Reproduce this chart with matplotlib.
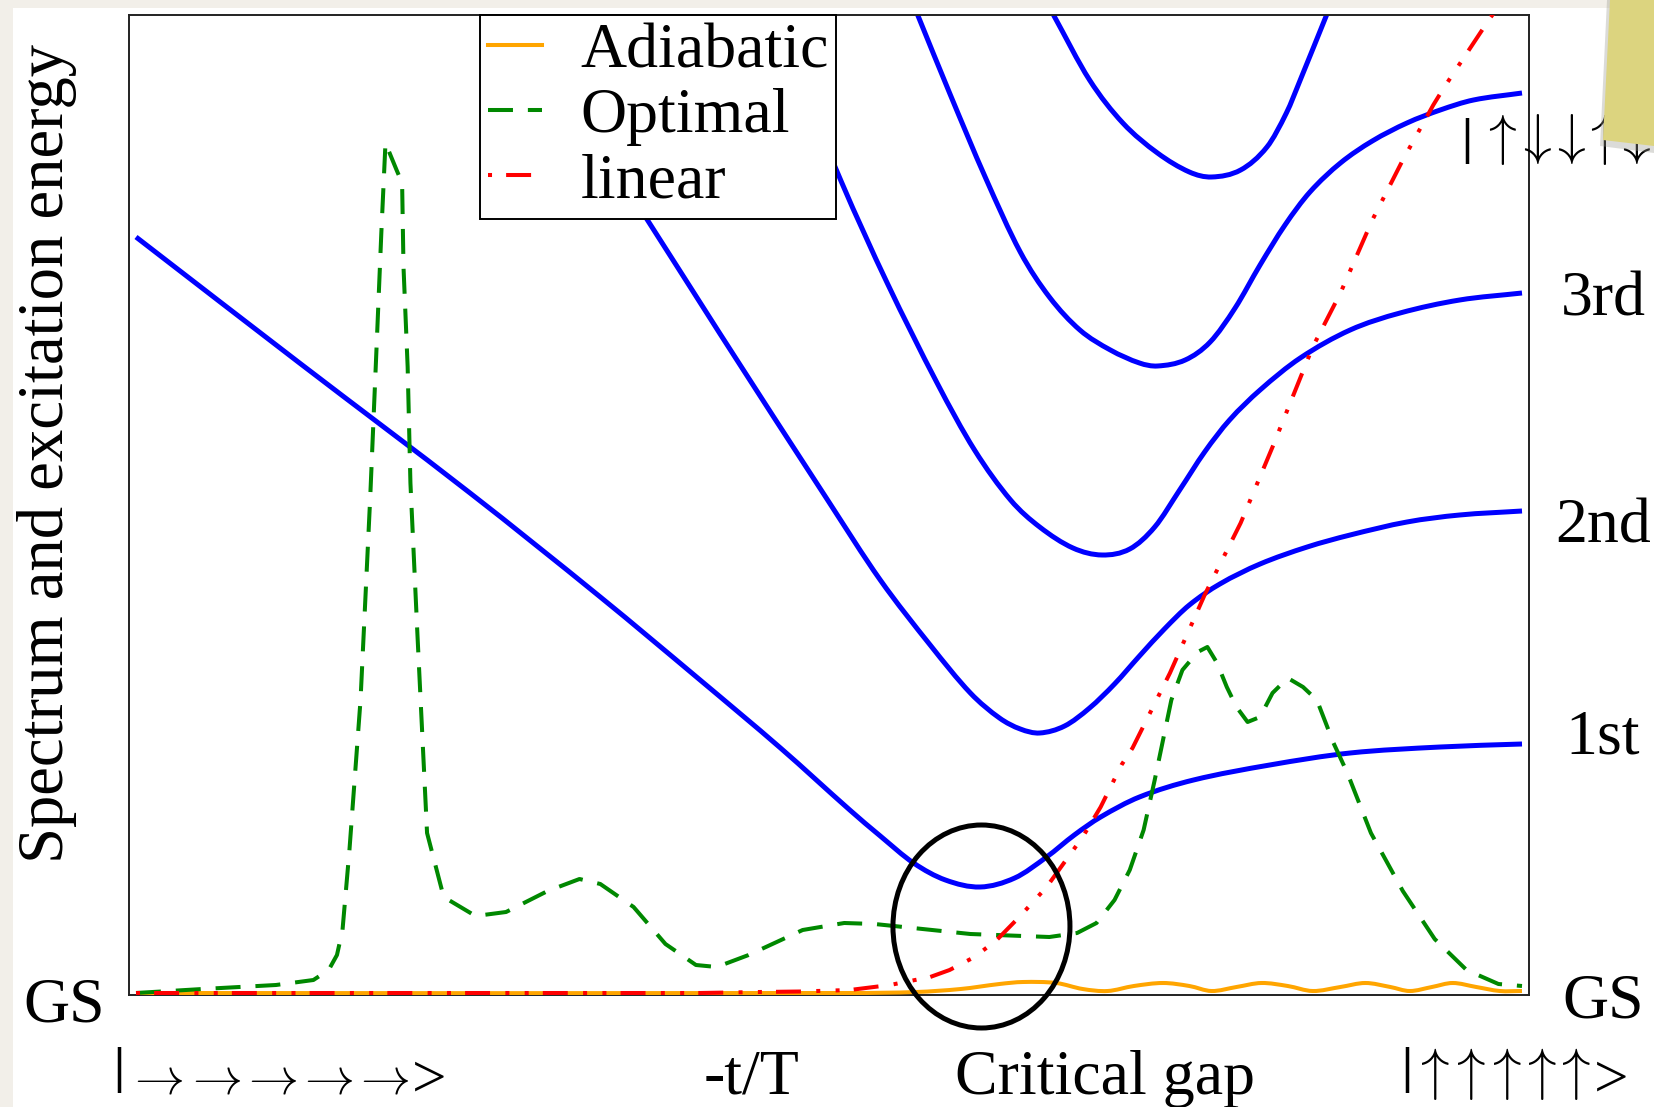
#!/usr/bin/python3

import numpy as np
import matplotlib
matplotlib.use("Agg")
import matplotlib.pyplot as plt
from matplotlib.lines import Line2D
from matplotlib.path import Path
from matplotlib.patches import Ellipse, Polygon, Rectangle, PathPatch

plt.rcParams['font.family'] = ['Liberation Serif', 'DejaVu Serif']
plt.rcParams['mathtext.fontset'] = 'cm'

# x = -t/T scaled to 0..1, y = energy above the ground state (GS = 0)
level1_t = [0.000, 0.118, 0.241, 0.335, 0.407, 0.465, 0.515, 0.537, 0.561, 0.584, 0.609,
            0.634, 0.657, 0.677, 0.696, 0.724, 0.763, 0.818, 0.876, 0.941, 1.000]
level1_E = [7.56, 6.30, 5.00, 3.96, 3.13, 2.45, 1.83, 1.57, 1.30, 1.13, 1.06,
            1.15, 1.36, 1.58, 1.76, 1.96, 2.13, 2.28, 2.40, 2.46, 2.49]

level2_t = [0.273, 0.369, 0.421, 0.499, 0.537, 0.573, 0.602, 0.623, 0.638, 0.652, 0.670, 0.688,
            0.706, 0.724, 0.742, 0.760, 0.782, 0.811, 0.845, 0.876, 0.917, 0.955, 1.000]
level2_E = [9.78, 7.73, 6.60, 4.93, 4.13, 3.48, 3.00, 2.75, 2.64, 2.60, 2.67, 2.85,
            3.09, 3.37, 3.64, 3.88, 4.09, 4.29, 4.46, 4.58, 4.71, 4.78, 4.82]

level3_t = [0.459, 0.509, 0.542, 0.578, 0.605, 0.631, 0.652, 0.676, 0.697, 0.717, 0.735,
            0.753, 0.771, 0.789, 0.811, 0.840, 0.876, 0.912, 0.955, 1.000]
level3_E = [9.78, 8.11, 7.10, 6.10, 5.43, 4.93, 4.66, 4.45, 4.38, 4.44, 4.66,
            5.03, 5.41, 5.73, 6.03, 6.35, 6.63, 6.80, 6.93, 7.00]

level4_t = [0.564, 0.587, 0.613, 0.638, 0.659, 0.681, 0.703, 0.724, 0.737, 0.757, 0.775,
            0.793, 0.811, 0.829, 0.847, 0.869, 0.892, 0.917, 0.941, 0.965, 1.000]
level4_E = [9.78, 9.00, 8.15, 7.41, 6.96, 6.63, 6.43, 6.30, 6.27, 6.33, 6.51,
            6.85, 7.28, 7.68, 8.01, 8.30, 8.52, 8.70, 8.83, 8.93, 9.00]

level5_t = [0.662, 0.688, 0.712, 0.737, 0.760, 0.776, 0.797, 0.816, 0.830, 0.840, 0.859]
level5_E = [9.78, 9.13, 8.70, 8.40, 8.21, 8.16, 8.23, 8.46, 8.80, 9.13, 9.78]

adiabatic_t = [0.000, 0.515, 0.563, 0.595, 0.623, 0.640, 0.664, 0.683, 0.701, 0.720, 0.741, 0.760, 0.776,
               0.794, 0.812, 0.831, 0.849, 0.869, 0.887, 0.905, 0.919, 0.935, 0.950, 0.967, 0.984, 1.000]
adiabatic_E = [0.00, 0.00, 0.01, 0.04, 0.09, 0.11, 0.10, 0.04, 0.02, 0.07, 0.10, 0.07, 0.02,
               0.06, 0.10, 0.07, 0.02, 0.06, 0.10, 0.06, 0.02, 0.06, 0.10, 0.06, 0.02, 0.02]

optimal_t = [0.000, 0.048, 0.101, 0.128, 0.139, 0.145, 0.149, 0.154, 0.162, 0.169,
             0.174, 0.177, 0.180, 0.188, 0.192, 0.193, 0.196, 0.198, 0.203, 0.210,
             0.222, 0.245, 0.267, 0.297, 0.320, 0.335, 0.359, 0.382, 0.404, 0.419,
             0.442, 0.481, 0.511, 0.533, 0.602, 0.659, 0.679, 0.693, 0.706, 0.717,
             0.727, 0.735, 0.747, 0.755, 0.766, 0.773, 0.780, 0.787, 0.794, 0.802,
             0.811, 0.820, 0.831, 0.842, 0.852, 0.864, 0.874, 0.891, 0.914, 0.937,
             0.960, 0.983, 1.000]
optimal_E = [0.00, 0.04, 0.08, 0.13, 0.23, 0.38, 0.63, 1.43, 2.93, 4.96,
             6.60, 7.60, 8.50, 8.23, 8.10, 7.26, 6.26, 5.10, 3.60, 1.60,
             0.96, 0.77, 0.81, 1.02, 1.14, 1.09, 0.86, 0.49, 0.28, 0.26,
             0.38, 0.63, 0.70, 0.69, 0.59, 0.56, 0.60, 0.70, 0.93, 1.23,
             1.63, 2.13, 2.93, 3.23, 3.41, 3.46, 3.30, 3.06, 2.86, 2.71,
             2.76, 3.00, 3.15, 3.06, 2.93, 2.50, 2.20, 1.60, 1.02, 0.54,
             0.23, 0.09, 0.07]

linear_t = [0.000, 0.407, 0.450, 0.479, 0.515, 0.544, 0.573, 0.587, 0.605, 0.621, 0.638, 0.657, 0.683, 0.696,
            0.711, 0.719, 0.746, 0.771, 0.797, 0.820, 0.849, 0.869, 0.892, 0.914, 0.936, 0.944, 0.977, 0.984]
linear_E = [0.00, 0.00, 0.01, 0.015, 0.03, 0.08, 0.16, 0.23, 0.36, 0.53, 0.77, 1.06, 1.56, 1.86,
            2.28, 2.45, 3.20, 3.98, 4.70, 5.46, 6.46, 7.00, 7.73, 8.33, 8.88, 9.06, 9.75, 9.88]

level_names = ["3rd", "2nd", "1st", "GS"]

# spin states written under / beside the axes
start_state = ["→", "→", "→", "→", "→"]
end_state = ["↑", "↑", "↑", "↑", "↑"]
excited_state = ["↑", "↓", "↓", "↑", "↓"]

# \! on both sides cancels most of the padding mathtext puts round arrows
ARROW_TEX = {"→": r"$\!\rightarrow\!$", "↑": r"$\!\uparrow\!$", "↓": r"$\!\downarrow\!$"}

W, H = 1654, 1107


def fx(px):
    return px / W


def fy(py):
    return 1 - py / H


def smooth_path(t, E):
    # cubic hermite through the read points, drawn as bezier segments
    t = np.asarray(t, float)
    E = np.asarray(E, float)
    m = np.empty(len(t))
    m[1:-1] = (E[2:] - E[:-2]) / (t[2:] - t[:-2])
    m[0] = (E[1] - E[0]) / (t[1] - t[0])
    m[-1] = (E[-1] - E[-2]) / (t[-1] - t[-2])
    verts = [(t[0], E[0])]
    codes = [Path.MOVETO]
    for i in range(len(t) - 1):
        h = t[i + 1] - t[i]
        verts += [(t[i] + h / 3, E[i] + m[i] * h / 3),
                  (t[i + 1] - h / 3, E[i + 1] - m[i + 1] * h / 3),
                  (t[i + 1], E[i + 1])]
        codes += [Path.CURVE4] * 3
    return Path(verts, codes)


def ket(fig, state, bar_x, bar_base, arrow_x, arrow_y, arrow_size, gt_x=None, gt_base=None):
    fig.text(fx(bar_x), fy(bar_base), "|", ha='left', va='baseline', fontsize=36,
             fontweight='bold')
    for s, x in zip(state, arrow_x):
        fig.text(fx(x), fy(arrow_y), ARROW_TEX[s], ha='center', va='center',
                 fontsize=arrow_size)
    if gt_x is not None:
        fig.text(fx(gt_x), fy(gt_base), ">", ha='left', va='baseline', fontsize=44)


def main():
    fig = plt.figure(figsize=(W / 100, H / 100), dpi=100, facecolor='#f2efe9')
    # white slide area
    fig.patches.append(Rectangle((fx(13), 0), 1, fy(7.5), transform=fig.transFigure,
                                 facecolor='white', edgecolor='none', zorder=-10))

    ax = fig.add_axes([fx(129), fy(995), 1400 / W, 980 / H])
    ax.set_xlim(-0.00505, 1.00505)
    ax.set_ylim(-0.02, 9.78)
    ax.set_xticks([])
    ax.set_yticks([])
    for sp in ax.spines.values():
        sp.set_linewidth(1.4)
        sp.set_color('#222222')

    for t, E in [(level1_t, level1_E), (level2_t, level2_E), (level3_t, level3_E),
                 (level4_t, level4_E), (level5_t, level5_E)]:
        ax.add_patch(PathPatch(smooth_path(t, E), fill=False, edgecolor='#0000ff',
                               lw=3.6, zorder=2))

    ax.add_patch(PathPatch(smooth_path(adiabatic_t, adiabatic_E), fill=False,
                           edgecolor='#ffa500', lw=2.9, zorder=3))
    h_adi = Line2D([], [], color='#ffa500', lw=2.9, label="Adiabatic")
    h_opt, = ax.plot(optimal_t, optimal_E, color='#008800', lw=2.9, zorder=3.5,
                     linestyle=(0, (6.2, 3.7)), label="Optimal")
    h_lin, = ax.plot(linear_t, linear_E, color='#ff0000', lw=2.9, zorder=4,
                     linestyle=(14.8, (6.2, 3.8, 1.0, 3.8, 1.0, 3.5)), label="linear")

    leg = ax.legend(handles=[h_adi, h_opt, h_lin], loc='upper left',
                    bbox_to_anchor=(0.2507, 1.0), borderaxespad=0,
                    fontsize=46, fancybox=False, framealpha=1, edgecolor='black',
                    handlelength=0.85, handletextpad=0.6, labelspacing=0.1, borderpad=0.12)
    leg.get_frame().set_linewidth(1.4)
    leg.set_zorder(6)

    # critical gap marker
    ax.add_patch(Ellipse((0.610, 0.665), 0.1277, 2.03, fill=False, edgecolor='black',
                         lw=3.6, clip_on=False, zorder=7))

    fs = 46
    fig.text(0.0284, 0.590, "Spectrum and excitation energy", rotation=90,
             ha='center', va='center', fontsize=46.5)
    fig.text(fx(23), fy(1021), "GS", ha='left', va='baseline', fontsize=fs)
    for label, base in zip(level_names, [316, 542, 754, 1018]):
        fig.text(fx(1603), fy(base), label, ha='center', va='baseline', fontsize=fs)

    fig.text(fx(704), fy(1094), "-t/T", ha='left', va='baseline', fontsize=fs)
    fig.text(fx(955), fy(1094), "Critical gap", ha='left', va='baseline', fontsize=fs)

    # spin configurations
    ket(fig, start_state, 113, 1082, [158, 216, 272, 328, 384], 1081, 36, 412, 1097)
    ket(fig, end_state, 1401, 1082, [1435, 1471, 1507, 1542, 1576], 1074, 41, 1594, 1097)
    ket(fig, excited_state, 1461, 153, [1502, 1537, 1571, 1604, 1636], 139, 40)

    # sticky note in the corner
    fig.patches.append(Polygon([(fx(1607), fy(0)), (fx(1600), fy(146)), (fx(1654), fy(153)),
                                (fx(1654), fy(0))], closed=True, transform=fig.transFigure,
                               facecolor='#9a9a90', edgecolor='none', alpha=0.35, zorder=9))
    fig.patches.append(Polygon([(fx(1610), fy(0)), (fx(1603), fy(140)), (fx(1654), fy(146)),
                                (fx(1654), fy(0))], closed=True, transform=fig.transFigure,
                               facecolor='#dcd47f', edgecolor='none', zorder=10))

    fig.savefig("out.png", dpi=100, facecolor=fig.get_facecolor())


if __name__ == "__main__":
    main()
